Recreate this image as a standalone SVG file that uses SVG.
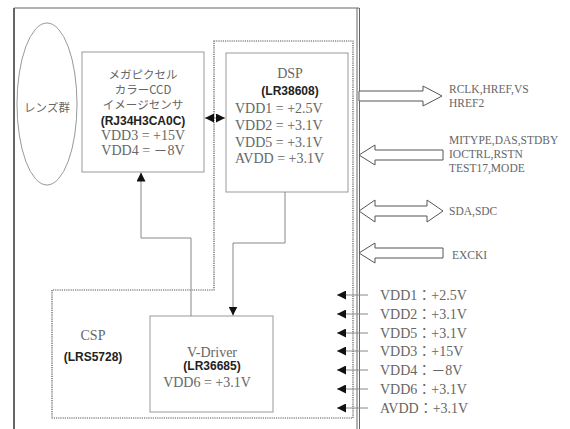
<svg xmlns="http://www.w3.org/2000/svg" width="570" height="429" viewBox="0 0 570 429">
<style>
.frame{fill:none;stroke:#666}
.box{fill:#fff;stroke:#999;stroke-width:1}
.dot{fill:none;stroke:#555;stroke-width:1.2;stroke-dasharray:1.2 1}
.conn{fill:none;stroke:#888;stroke-width:1}
.hollow{fill:#fff;stroke:#555;stroke-width:1}
.serif{font-family:"Liberation Serif","Noto Sans CJK JP",serif;fill:#666;font-size:14px}
.small{font-family:"Liberation Serif","Noto Sans CJK JP",serif;fill:#666;font-size:11.5px}
.jp{font-family:"Noto Sans CJK JP",sans-serif;fill:#666;font-size:11.5px;font-weight:normal}
.bold{font-family:"Liberation Sans",Arial,sans-serif;font-weight:bold;fill:#222;font-size:12px}
</style>
<defs>
<marker id="ah" viewBox="0 0 10 10" refX="10" refY="5" markerWidth="9" markerHeight="9" markerUnits="userSpaceOnUse" orient="auto-start-reverse">
<path d="M0,0 L10,5 L0,10 Z" fill="#111"/>
</marker>
</defs>
<rect width="570" height="429" fill="#fff"/>
<g id="frame">
<line class="frame" x1="14" y1="8" x2="14" y2="429" stroke-width="2"/>
<line class="frame" x1="14" y1="8" x2="359" y2="8" stroke-width="1"/>
<line class="frame" x1="357" y1="8" x2="357" y2="429" stroke-width="1"/>
<line class="frame" x1="359.5" y1="8" x2="359.5" y2="429" stroke-width="1"/>
</g>
<g id="dsp-csp-region">
<path class="dot" d="M214,41 H353 V418 H52 V290 H214 Z"/>
</g>
<g id="lens">
<ellipse cx="47" cy="104" rx="30" ry="81" fill="#fff" stroke="#999"/>
<text class="jp" x="47" y="112" text-anchor="middle" font-size="12">レンズ群</text>
</g>
<g id="ccd">
<rect class="box" x="82" y="52" width="122" height="120"/>
<text class="jp" x="143" y="79" text-anchor="middle">メガピクセル</text>
<text class="jp" x="143" y="94" text-anchor="middle">カラーCCD</text>
<text class="jp" x="143" y="109" text-anchor="middle">イメージセンサ</text>
<text class="bold" x="143" y="125" text-anchor="middle" font-size="13">(RJ34H3CA0C)</text>
<text class="serif" x="143" y="140" text-anchor="middle">VDD3 = +15V</text>
<text class="serif" x="143" y="155" text-anchor="middle">VDD4 = －8V</text>
</g>
<g id="dsp">
<rect class="box" x="226" y="53" width="122" height="139"/>
<text class="serif" x="290" y="78" text-anchor="middle">DSP</text>
<text class="bold" x="290" y="95" text-anchor="middle">(LR38608)</text>
<text class="serif" x="235" y="113">VDD1 = +2.5V</text>
<text class="serif" x="235" y="130">VDD2 = +3.1V</text>
<text class="serif" x="235" y="146.5">VDD5 = +3.1V</text>
<text class="serif" x="235" y="163">AVDD = +3.1V</text>
</g>
<g id="csp">
<text class="serif" x="93" y="340" text-anchor="middle">CSP</text>
<text class="bold" x="93" y="361" text-anchor="middle">(LRS5728)</text>
</g>
<g id="vdriver">
<rect class="box" x="150" y="316" width="123" height="96"/>
<text class="serif" x="212" y="357" text-anchor="middle">V-Driver</text>
<text class="bold" x="212" y="370" text-anchor="middle">(LR36685)</text>
<text class="serif" x="207" y="387" text-anchor="middle">VDD6 = +3.1V</text>
</g>
<g id="connectors">
<line class="conn" x1="205" y1="118" x2="225" y2="118" marker-start="url(#ah)" marker-end="url(#ah)"/>
<path class="conn" d="M285,192 V243 H233 V315.5" marker-end="url(#ah)"/>
<path class="conn" d="M191,316 V238 H141 V172.5" marker-end="url(#ah)"/>
<line class="conn" x1="368" y1="295" x2="337" y2="295" marker-end="url(#ah)"/>
<line class="conn" x1="368" y1="314" x2="337" y2="314" marker-end="url(#ah)"/>
<line class="conn" x1="368" y1="333" x2="337" y2="333" marker-end="url(#ah)"/>
<line class="conn" x1="368" y1="351" x2="337" y2="351" marker-end="url(#ah)"/>
<line class="conn" x1="368" y1="370" x2="337" y2="370" marker-end="url(#ah)"/>
<line class="conn" x1="368" y1="389" x2="337" y2="389" marker-end="url(#ah)"/>
<line class="conn" x1="368" y1="408" x2="337" y2="408" marker-end="url(#ah)"/>
<polygon class="hollow" points="359,91 423,91 423,86 442,96 423,106 423,101 359,101"/>
<polygon class="hollow" points="359,155 375,145 375,150 443,150 443,160 375,160 375,165"/>
<polygon class="hollow" points="359,211 375,200 375,206 427,206 427,200 443,211 427,222 427,216 375,216 375,222"/>
<polygon class="hollow" points="359,253 375,243 375,248 443,248 443,258 375,258 375,263"/>
</g>
<g id="signal-labels">
<text class="small" x="449" y="93">RCLK,HREF,VS</text>
<text class="small" x="449" y="107">HREF2</text>
<text class="small" x="449" y="144">MITYPE,DAS,STDBY</text>
<text class="small" x="449" y="158">IOCTRL,RSTN</text>
<text class="small" x="449" y="172">TEST17,MODE</text>
<text class="small" x="449" y="215">SDA,SDC</text>
<text class="small" x="452" y="259">EXCKI</text>
</g>
<g id="power-labels">
<text class="serif" x="380" y="300">VDD1：+2.5V</text>
<text class="serif" x="380" y="319">VDD2：+3.1V</text>
<text class="serif" x="380" y="338">VDD5：+3.1V</text>
<text class="serif" x="380" y="356">VDD3：+15V</text>
<text class="serif" x="380" y="375">VDD4：－8V</text>
<text class="serif" x="380" y="394">VDD6：+3.1V</text>
<text class="serif" x="380" y="413">AVDD：+3.1V</text>
</g>
</svg>
